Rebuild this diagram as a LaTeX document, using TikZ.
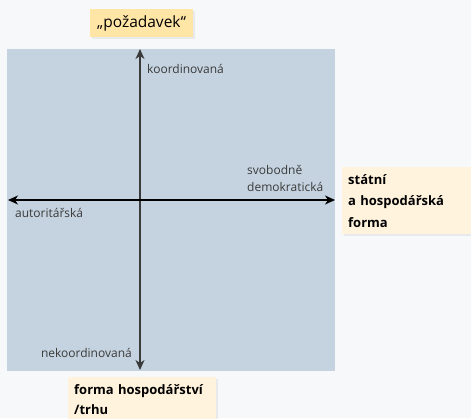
\documentclass[tikz,border=0pt]{standalone}
\usepackage{fontspec}
\setmainfont{Open Sans}
\usetikzlibrary{positioning,arrows.meta,shadows}
\definecolor{pozadi}{HTML}{F7F8FA}
\definecolor{plocha}{HTML}{C5D3E0}
\definecolor{zluta}{HTML}{FFE5A6}
\definecolor{krem}{HTML}{FFF3DD}
\definecolor{seda}{HTML}{3A3A3A}

\begin{document}
\begin{tikzpicture}[x=1pt,y=-1pt,
    hrot/.tip={Stealth[length=10pt,width=9pt,inset=3pt]},
    osa/.style={line width=1.3pt,{hrot}-{hrot}},
    popis/.style={font=\fontsize{12}{17}\selectfont,text=seda,inner sep=0pt,align=left},
    stin/.style={drop shadow={opacity=0.12,shadow xshift=1.5pt,shadow yshift=-2pt}},
    stitek/.style={font=\bfseries\fontsize{13}{21.5}\selectfont,fill=krem,stin,align=left,inner xsep=6pt}]
    % Background
    \fill[pozadi] (0,0) rectangle (471,418);
    \useasboundingbox (0,0) rectangle (471,418);
    \fill[plocha] (7,49) rectangle (335,371);

    % Axes
    \coordinate (nahore) at (140,49);
    \coordinate (dole) at (140,370);
    \coordinate (vlevo) at (8,200);
    \coordinate (vpravo) at (335,200);
    \draw[osa,draw=seda] (dole) -- (nahore);
    \draw[osa] (vlevo) -- (vpravo);

    % Axis labels
    \node[popis,anchor=base west] (koord) at (147,73) {koordinovaná};
    \node[popis,anchor=base east] (nekoord) at (132,357) {nekoordinovaná};
    \node[popis,anchor=base west] (autor) at (15,217) {autoritářská};
    \node[popis,anchor=south west] (svob) at (247,192) {svobodně\\demokratická};

    % Boxes
    \node[font=\fontsize{15.5}{18}\selectfont,fill=zluta,stin,minimum width=103pt,minimum height=28pt]
        (pozadavek) at (141.5,23) {„požadavek“};
    \node[stitek,anchor=north west,text width=131pt,minimum height=67pt] (statni) at (342,167)
        {státní\\a hospodářská\\forma};
    \node[stitek,font=\bfseries\fontsize{13}{20}\selectfont,anchor=north west,text width=136pt,
        minimum height=44pt] (forma) at (68,377) {forma hospodářství\\/trhu};
\end{tikzpicture}
\end{document}
